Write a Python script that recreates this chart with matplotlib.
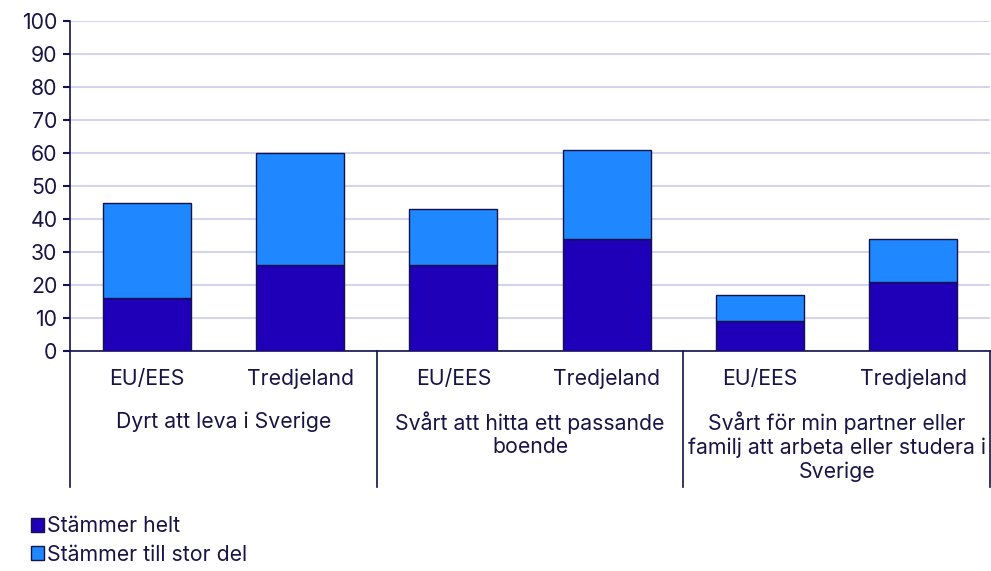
import matplotlib.pyplot as plt
import matplotlib.transforms as mtransforms
from matplotlib.patches import Patch

plt.rcParams['font.family'] = ['Inter', 'DejaVu Sans']

groups = ["Dyrt att leva i Sverige",
          "Svårt att hitta ett passande\nboende",
          "Svårt för min partner eller\nfamilj att arbeta eller studera i\nSverige"]
subcats = ["EU/EES", "Tredjeland"]
helt = [16, 26, 26, 34, 9, 21]
stor_del = [29, 34, 17, 27, 8, 13]

dark = "#1f00b8"
light = "#1f87ff"
edge = "#14124a"
text_c = "#1a1446"
grid_c = "#d4d4ee"
fs = 15.3

fig = plt.figure(figsize=(9.91, 5.71), dpi=100)
ax = fig.add_axes([70 / 991, 1 - 351 / 571, 920 / 991, 330 / 571])

x = list(range(len(helt)))
w = 0.575
ax.bar(x, helt, width=w, color=dark, edgecolor=edge, linewidth=1, zorder=3)
ax.bar(x, stor_del, width=w, bottom=helt, color=light, edgecolor=edge, linewidth=1, zorder=3)

ax.set_xlim(-0.5, 5.5)
ax.set_ylim(0, 100)
ax.set_yticks(range(0, 101, 10))
ax.yaxis.grid(True, color=grid_c, linewidth=1.5, zorder=0)
ax.set_axisbelow(True)
ax.tick_params(axis='y', length=5, width=1.5, color=edge, labelsize=fs, labelcolor=text_c, pad=4)
ax.set_xticks([])
for s in ["top", "right"]:
    ax.spines[s].set_visible(False)
for s in ["left", "bottom"]:
    ax.spines[s].set_color(edge)
    ax.spines[s].set_linewidth(1.2)

trans = mtransforms.blended_transform_factory(ax.transData, ax.transAxes)
y_bot = (351 - 487) / 330
for xs in [-0.5, 1.5, 3.5, 5.5]:
    ax.plot([xs, xs], [0, y_bot], transform=trans, color=edge, linewidth=1.2, clip_on=False)

for i in x:
    ax.text(i, (351 - 379) / 330, subcats[i % 2], transform=trans, ha='center', va='center',
            fontsize=fs, color=text_c)
for g, name in enumerate(groups):
    ax.text(2 * g + 0.5, (351 - 411) / 330, name, transform=trans, ha='center', va='top',
            fontsize=fs, color=text_c, linespacing=1.22)

handles = [Patch(facecolor=dark, edgecolor=edge, label="Stämmer helt"),
           Patch(facecolor=light, edgecolor=edge, label="Stämmer till stor del")]
leg = fig.legend(handles=handles, loc='upper left', bbox_to_anchor=(22 / 991, 1 - 508 / 571),
                 frameon=False, fontsize=fs, handlelength=0.62, handleheight=0.62,
                 handletextpad=0.15, labelspacing=0.38, borderaxespad=0)
for t in leg.get_texts():
    t.set_color(text_c)

fig.savefig("out.png", dpi=100)
